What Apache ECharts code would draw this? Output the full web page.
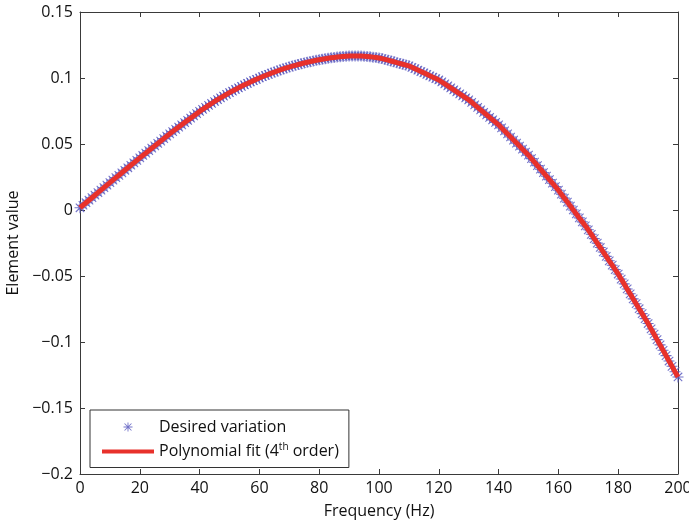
<!DOCTYPE html>
<html>
<head>
<meta charset="utf-8">
<script src="https://cdn.jsdelivr.net/npm/echarts@6/dist/echarts.min.js"></script>
<style>
  html, body { margin: 0; padding: 0; background: #fff; }
  #main { width: 689px; height: 525px; }
</style>
</head>
<body>
<div id="main"></div>
<script>
// frequency points (Hz), one sample per Hz
const freq = [
  0, 1, 2, 3, 4, 5, 6, 7, 8, 9, 10, 11, 12, 13, 14, 15, 16, 17, 18, 19,
  20, 21, 22, 23, 24, 25, 26, 27, 28, 29, 30, 31, 32, 33, 34, 35, 36, 37, 38, 39,
  40, 41, 42, 43, 44, 45, 46, 47, 48, 49, 50, 51, 52, 53, 54, 55, 56, 57, 58, 59,
  60, 61, 62, 63, 64, 65, 66, 67, 68, 69, 70, 71, 72, 73, 74, 75, 76, 77, 78, 79,
  80, 81, 82, 83, 84, 85, 86, 87, 88, 89, 90, 91, 92, 93, 94, 95, 96, 97, 98, 99,
  100, 101, 102, 103, 104, 105, 106, 107, 108, 109, 110, 111, 112, 113, 114, 115, 116, 117, 118, 119,
  120, 121, 122, 123, 124, 125, 126, 127, 128, 129, 130, 131, 132, 133, 134, 135, 136, 137, 138, 139,
  140, 141, 142, 143, 144, 145, 146, 147, 148, 149, 150, 151, 152, 153, 154, 155, 156, 157, 158, 159,
  160, 161, 162, 163, 164, 165, 166, 167, 168, 169, 170, 171, 172, 173, 174, 175, 176, 177, 178, 179,
  180, 181, 182, 183, 184, 185, 186, 187, 188, 189, 190, 191, 192, 193, 194, 195, 196, 197, 198, 199,
  200
];

// desired variation
const desired = [
  0.0017, 0.0036, 0.0055, 0.0074, 0.0093, 0.0112, 0.0131, 0.0150, 0.0169, 0.0188,
  0.0207, 0.0226, 0.0245, 0.0263, 0.0282, 0.0301, 0.0320, 0.0339, 0.0357, 0.0376,
  0.0395, 0.0413, 0.0431, 0.0450, 0.0468, 0.0486, 0.0504, 0.0522, 0.0541, 0.0559,
  0.0577, 0.0594, 0.0611, 0.0628, 0.0645, 0.0662, 0.0679, 0.0696, 0.0713, 0.0730,
  0.0747, 0.0762, 0.0777, 0.0792, 0.0807, 0.0822, 0.0836, 0.0850, 0.0863, 0.0876,
  0.0889, 0.0901, 0.0913, 0.0925, 0.0937, 0.0948, 0.0959, 0.0970, 0.0980, 0.0990,
  0.1000, 0.1010, 0.1019, 0.1028, 0.1037, 0.1045, 0.1053, 0.1061, 0.1069, 0.1076,
  0.1083, 0.1090, 0.1096, 0.1102, 0.1108, 0.1114, 0.1119, 0.1124, 0.1129, 0.1134,
  0.1138, 0.1142, 0.1146, 0.1150, 0.1153, 0.1156, 0.1159, 0.1161, 0.1163, 0.1165,
  0.1166, 0.1167, 0.1167, 0.1167, 0.1166, 0.1165, 0.1163, 0.1161, 0.1158, 0.1155,
  0.1152, 0.1147, 0.1141, 0.1135, 0.1129, 0.1123, 0.1116, 0.1110, 0.1104, 0.1098,
  0.1092, 0.1081, 0.1071, 0.1060, 0.1049, 0.1039, 0.1028, 0.1017, 0.1006, 0.0996,
  0.0985, 0.0970, 0.0955, 0.0940, 0.0925, 0.0910, 0.0895, 0.0880, 0.0865, 0.0850,
  0.0835, 0.0816, 0.0797, 0.0778, 0.0759, 0.0740, 0.0721, 0.0702, 0.0683, 0.0664,
  0.0645, 0.0622, 0.0599, 0.0576, 0.0553, 0.0530, 0.0507, 0.0484, 0.0461, 0.0438,
  0.0415, 0.0389, 0.0362, 0.0336, 0.0309, 0.0283, 0.0256, 0.0230, 0.0203, 0.0177,
  0.0150, 0.0120, 0.0090, 0.0060, 0.0030, 0.0000, -0.0030, -0.0060, -0.0090, -0.0120,
  -0.0150, -0.0184, -0.0217, -0.0251, -0.0284, -0.0318, -0.0351, -0.0385, -0.0418, -0.0452,
  -0.0485, -0.0523, -0.0560, -0.0598, -0.0635, -0.0673, -0.0710, -0.0748, -0.0785, -0.0823,
  -0.0860, -0.0901, -0.0941, -0.0982, -0.1022, -0.1063, -0.1103, -0.1144, -0.1184, -0.1225,
  -0.1265
];

const seriesNames = ["Desired variation", "Polynomial fit (4th order)"];

// MATLAB style '*' marker
const asterisk = "path://M4.5 0h1v10h-1z M0 4.5h10v1h-10z M0.8 1.5L1.5 0.8L9.2 8.5L8.5 9.2z M8.5 0.8L9.2 1.5L1.5 9.2L0.8 8.5z";

const points = freq.map((f, i) => [f, desired[i]]);

const font = "Open Sans";
const axisColor = "#3a3a3a";
const textColor = "#111";

function yLabel(v) {
  const s = String(parseFloat(v.toFixed(2)));
  return s.replace("-", "\u2212");
}

const boxAxis = {
  axisLine: { onZero: false, lineStyle: { color: axisColor, width: 1 } },
  axisTick: { inside: true, length: 5, lineStyle: { color: axisColor } },
  splitLine: { show: false }
};

let option = {
  animation: false,
  backgroundColor: "#fff",
  grid: { left: 80, right: 11, top: 12, bottom: 51, outerBoundsMode: "none" },
  legend: {
    orient: "vertical",
    left: 90,
    top: 410,
    padding: [9, 10, 8, 10],
    itemGap: 7,
    itemWidth: 52,
    itemHeight: 9,
    borderColor: "#333",
    borderWidth: 1,
    backgroundColor: "#fff",
    data: [
      { name: seriesNames[0] },
      { name: seriesNames[1], itemStyle: { opacity: 0 }, lineStyle: { width: 4 } }
    ],
    formatter: function (name) {
      if (name === seriesNames[1]) {
        return "{a|Polynomial fit (4}{s|th}{a| order)}";
      }
      return "{a|" + name + "}";
    },
    textStyle: {
      fontFamily: font,
      fontSize: 16,
      color: textColor,
      rich: {
        a: { fontFamily: font, fontSize: 16, color: textColor },
        s: { fontFamily: font, fontSize: 10, color: textColor, verticalAlign: "bottom", padding: [0, 0, 9, 0] }
      }
    }
  },
  xAxis: [
    Object.assign({}, boxAxis, {
      type: "value",
      min: 0,
      max: 200,
      interval: 20,
      name: "Frequency (Hz)",
      nameLocation: "middle",
      nameGap: 29,
      nameTextStyle: { fontFamily: font, fontSize: 16, color: textColor },
      axisLabel: { fontFamily: font, fontSize: 16, color: textColor, margin: 6 }
    }),
    Object.assign({}, boxAxis, {
      type: "value",
      position: "top",
      min: 0,
      max: 200,
      interval: 20,
      axisLabel: { show: false }
    })
  ],
  yAxis: [
    Object.assign({}, boxAxis, {
      type: "value",
      min: -0.2,
      max: 0.15,
      interval: 0.05,
      name: "Element value",
      nameLocation: "middle",
      nameGap: 58,
      nameTextStyle: { fontFamily: font, fontSize: 16, color: textColor },
      axisLabel: { fontFamily: font, fontSize: 16, color: textColor, margin: 7, formatter: yLabel }
    }),
    Object.assign({}, boxAxis, {
      type: "value",
      position: "right",
      min: -0.2,
      max: 0.15,
      interval: 0.05,
      axisLabel: { show: false }
    })
  ],
  series: [
    {
      name: seriesNames[0],
      type: "scatter",
      xAxisIndex: 0,
      yAxisIndex: 0,
      symbol: asterisk,
      symbolSize: 11,
      itemStyle: { color: "#5a5ac0", opacity: 0.85 },
      data: points,
      z: 2
    },
    {
      name: seriesNames[1],
      type: "line",
      xAxisIndex: 0,
      yAxisIndex: 0,
      symbol: "none",
      lineStyle: { color: "#e8312b", width: 5 },
      itemStyle: { color: "#e8312b" },
      data: points,
      z: 3
    }
  ]
};

let myChart = echarts.init(document.getElementById("main"));
myChart.setOption(option);
</script>
</body>
</html>
